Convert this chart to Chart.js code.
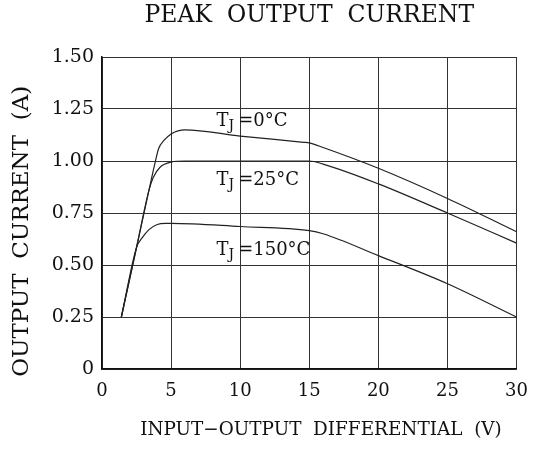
<!DOCTYPE html>
<html><head><meta charset="utf-8">
<script src="https://cdn.jsdelivr.net/npm/chart.js@4.4.0/dist/chart.umd.min.js"></script>
<style>html,body{margin:0;padding:0;background:#fff}#wrap{width:540px;height:451px}</style>
</head><body><div id="wrap"><canvas id="c"></canvas></div>
<script>
const titleText = 'PEAK  OUTPUT  CURRENT';
const xTitle = '    INPUT\u2212OUTPUT  DIFFERENTIAL  (V)';
const yTitle = 'OUTPUT  CURRENT  (A)     ';
const xTicks = [0, 5, 10, 15, 20, 25, 30];
const yTicks = [0, 0.25, 0.5, 0.75, 1.0, 1.25, 1.5];

const x0C = [1.4, 2.5, 3.4, 3.8, 4.1, 4.5, 5, 5.5, 6, 10, 14.6, 15, 16, 20, 25, 30];
const y0C = [0.25, 0.585, 0.86, 0.98, 1.06, 1.10, 1.13, 1.145, 1.15, 1.12, 1.09, 1.087, 1.065, 0.965, 0.82, 0.66];
const x25C = [1.4, 2.5, 3.4, 3.7, 4.2, 5, 6, 15, 16, 20, 25, 30];
const y25C = [0.25, 0.585, 0.86, 0.92, 0.97, 0.995, 1.0, 1.0, 0.985, 0.89, 0.75, 0.605];
const x150C = [1.4, 2.5, 2.9, 3.4, 4, 4.6, 5, 10, 15, 16, 20, 25, 30];
const y150C = [0.25, 0.585, 0.63, 0.67, 0.695, 0.70, 0.70, 0.685, 0.665, 0.65, 0.545, 0.41, 0.25];

const labels = [
  {x: 8.29, y: 1.168, t: '0\u00B0C'},
  {x: 8.29, y: 0.885, t: '25\u00B0C'},
  {x: 8.29, y: 0.548, t: '150\u00B0C'}
];

const pts = (xs, ys) => xs.map((x, i) => ({x, y: ys[i]}));
const FONT = "'DejaVu Serif', serif";

const ds = (data) => ({data, borderColor: '#222', borderWidth: 1.2, pointRadius: 0,
  cubicInterpolationMode: 'monotone', fill: false});

const labelPlugin = {
  id: 'tjLabels',
  afterLayout(chart) {
    if (chart.titleBlock) {
      chart.titleBlock.left = chart.chartArea.left;
      chart.titleBlock.right = chart.chartArea.right;
    }
  },
  afterDatasetsDraw(chart) {
    const ctx = chart.ctx, xs = chart.scales.x, ys = chart.scales.y;
    ctx.save();
    ctx.fillStyle = '#111';
    ctx.textBaseline = 'alphabetic';
    labels.forEach(l => {
      let px = xs.getPixelForValue(l.x), py = ys.getPixelForValue(l.y);
      ctx.font = "18px " + FONT;
      ctx.fillText('T', px, py);
      px += ctx.measureText('T').width;
      ctx.font = "14px " + FONT;
      ctx.fillText('J', px, py + 4);
      px += ctx.measureText('J').width + 4;
      ctx.font = "18px " + FONT;
      ctx.fillText('=' + l.t, px, py);
    });
    ctx.restore();
  }
};

new Chart(document.getElementById('c'), {
  type: 'line',
  data: {datasets: [ds(pts(x0C, y0C)), ds(pts(x25C, y25C)), ds(pts(x150C, y150C))]},
  options: {
    responsive: true, maintainAspectRatio: false, animation: false,
    layout: {padding: {left: 8, right: 18, top: 0, bottom: 4}},
    plugins: {
      legend: {display: false}, tooltip: {enabled: false},
      title: {display: true, text: titleText, color: '#111',
        font: {family: FONT, size: 23.5, weight: 'normal'}, padding: {top: 2, bottom: 26.8}}
    },
    scales: {
      x: {type: 'linear', min: 0, max: 30,
        afterBuildTicks: s => { s.ticks = xTicks.map(v => ({value: v})); },
        afterFit: s => { s.height = 78; },
        grid: {color: '#333', lineWidth: 1, drawTicks: false},
        border: {color: '#111', width: 1.5},
        ticks: {color: '#111', padding: 12, maxRotation: 0, font: {family: FONT, size: 18},
          callback: v => String(v)},
        title: {display: true, text: xTitle, color: '#111', font: {family: FONT, size: 18.4},
          padding: {top: 3, bottom: 6}}
      },
      y: {type: 'linear', min: 0, max: 1.5,
        afterBuildTicks: s => { s.ticks = yTicks.map(v => ({value: v})); },
        afterFit: s => { s.width = 94; },
        grid: {color: '#333', lineWidth: 1, drawTicks: false},
        border: {color: '#111', width: 1.5},
        ticks: {color: '#111', padding: 8, font: {family: FONT, size: 19},
          callback: v => v === 0 ? '0' : v.toFixed(2)},
        title: {display: true, text: yTitle, color: '#111', font: {family: FONT, size: 23},
          padding: {top: 0, bottom: 0}}
      }
    }
  },
  plugins: [labelPlugin]
});
</script></body></html>
